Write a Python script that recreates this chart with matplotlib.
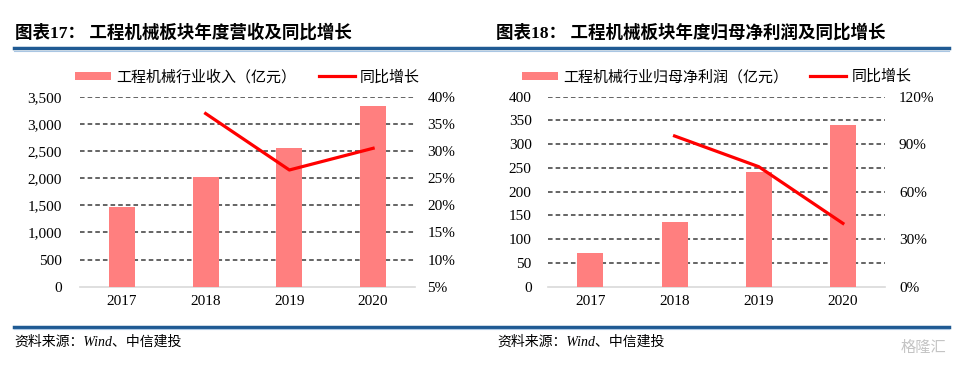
import matplotlib
matplotlib.use("Agg")
import matplotlib.pyplot as plt
from matplotlib.lines import Line2D
from matplotlib.patches import Patch
import numpy as np

# ---- data ----
years = ["2017", "2018", "2019", "2020"]
revenue = [1474, 2014, 2548, 3328]            # 亿元
revenue_growth = [None, 36.9, 26.5, 30.5]      # %
profit = [70, 137, 242, 340]                   # 亿元
profit_growth = [None, 95.2, 75.8, 40.0]       # %

title_left = "图表17： 工程机械板块年度营收及同比增长"
title_right = "图表18： 工程机械板块年度归母净利润及同比增长"
leg_bar_left = "工程机械行业收入（亿元）"
leg_bar_right = "工程机械行业归母净利润（亿元）"
leg_line = "同比增长"
source = "资料来源：Wind、中信建投"

left_ticks = [0, 500, 1000, 1500, 2000, 2500, 3000, 3500]
left_rticks = [5, 10, 15, 20, 25, 30, 35, 40]
right_ticks = [0, 50, 100, 150, 200, 250, 300, 350, 400]
right_rticks = [0, 30, 60, 90, 120]

BAR = "#FF7F7F"
LINE = "#FF0000"
GRID = "#3A3A3A"
SERIF = ["Liberation Serif", "Noto Sans CJK SC"]
CJK = ["Noto Sans CJK SC", "DejaVu Sans"]

W, H = 958, 368
fig = plt.figure(figsize=(W / 100, H / 100), dpi=100)


def fx(px):
    return px / W


def fy(py):
    return 1 - py / H


def make_panel(x0, x1, bars, growth, yticks, ylim, rticks, rlim, rfmt,
               lpad, rpad, leg_bar):
    y_top, y_bot = 96.7, 286.7
    ax = fig.add_axes([fx(x0), fy(y_bot), fx(x1 - x0), (y_bot - y_top) / H])
    x = np.arange(len(years))
    ax.bar(x, bars, width=0.31, color=BAR, zorder=3)
    ax.set_xlim(-0.5, len(years) - 0.5)
    ax.set_ylim(*ylim)
    ax.set_yticks(yticks)
    ax.set_yticklabels([f"{v:,}" for v in yticks], fontfamily="Liberation Serif", fontsize=11)
    ax.set_xticks(x)
    ax.set_xticklabels(years, fontfamily="Liberation Serif", fontsize=11)
    ax.tick_params(axis="y", length=0, pad=lpad)
    ax.tick_params(axis="x", length=0, pad=6)
    for s in ["left", "right", "top"]:
        ax.spines[s].set_visible(False)
    ax.spines["bottom"].set_color("#D9D9D9")
    ax.spines["bottom"].set_linewidth(1.2)
    for t in yticks[1:]:
        ax.axhline(t, color=GRID, lw=1.1, ls=(0, (3, 2)), zorder=1)

    ax2 = ax.twinx()
    gx = [i for i, g in enumerate(growth) if g is not None]
    gy = [g for g in growth if g is not None]
    ax2.plot(gx, gy, color=LINE, lw=2.3, zorder=4)
    ax2.set_ylim(*rlim)
    ax2.set_yticks(rticks)
    ax2.set_yticklabels([rfmt(v) for v in rticks], fontfamily="Liberation Serif", fontsize=11)
    ax2.tick_params(axis="y", length=0, pad=rpad)
    for s in ["left", "right", "top", "bottom"]:
        ax2.spines[s].set_visible(False)

    handles = [Patch(facecolor=BAR, edgecolor="none"),
               Line2D([0], [0], color=LINE, lw=2.3)]
    ax.legend(handles, [leg_bar, leg_line], loc="center", bbox_to_anchor=(0.5, 1.104),
              ncol=2, frameon=False, prop={"family": CJK, "size": 10.8},
              handlelength=2.4, handleheight=0.5, handletextpad=0.35,
              columnspacing=1.5, borderaxespad=0, borderpad=0)
    return ax, ax2


make_panel(80, 415, revenue, revenue_growth, left_ticks, (0, 3500),
           left_rticks, (5, 40), lambda v: f"{v}%", 13, 9, leg_bar_left)
make_panel(548.3, 885, profit, profit_growth, right_ticks, (0, 400),
           right_rticks, (0, 120), lambda v: f"{v}%", 12, 10, leg_bar_right)

# titles
fig.text(fx(15), fy(33), title_left, fontsize=12.6, fontweight="bold",
         family=SERIF, va="center", ha="left")
fig.text(fx(496), fy(33), title_right, fontsize=12.6, fontweight="bold",
         family=SERIF, va="center", ha="left")

# decorative rules
for yy, lw, col in [(48.3, 2.5, "#1F5A93"), (50.6, 0.8, "#A9C6E3")]:
    fig.add_artist(Line2D([fx(14), fx(949)], [fy(yy), fy(yy)], color=col, lw=lw))
for yy, lw, col in [(326.5, 2.5, "#1F5A93"), (328.9, 0.8, "#A9C6E3")]:
    fig.add_artist(Line2D([fx(14), fx(949)], [fy(yy), fy(yy)], color=col, lw=lw))

# source notes
fig.text(fx(14), fy(342), source, fontsize=10, style="italic", family=SERIF,
         va="center", ha="left")
fig.text(fx(497), fy(342), source, fontsize=10, style="italic", family=SERIF,
         va="center", ha="left")

# watermark
fig.text(fx(946), fy(347), "格隆汇", fontsize=11, color="#C4C4C4", family=CJK,
         va="center", ha="right")

fig.savefig("out.png", dpi=100)
